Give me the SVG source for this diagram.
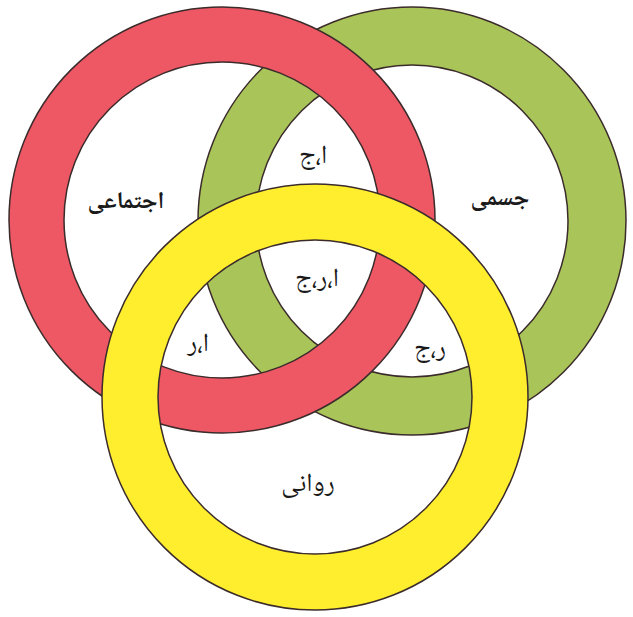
<svg xmlns="http://www.w3.org/2000/svg" width="633" height="617" viewBox="0 0 633 617">
<style>
.ring{fill-rule:evenodd;stroke:#3b2b2b;stroke-width:1.5}
.red{fill:#EE5865}
.green{fill:#A9C55A}
.yellow{fill:#FFEE2E}
.lbl{font-family:"Noto Naskh Arabic","Noto Sans Arabic","DejaVu Sans",sans-serif;font-size:26px;fill:#1a1a1a;text-anchor:middle}
.b{font-weight:bold;font-size:24px}
</style>
<rect width="633" height="617" fill="#ffffff"/>
<g id="ring-physical">
<path class="ring green" d="M198,221 a214,214 0 1,0 428,0 a214,214 0 1,0 -428,0 Z M256,221 a156,156 0 1,0 312,0 a156,156 0 1,0 -312,0 Z"/>
</g>
<g id="ring-social">
<path class="ring red" d="M9,220 a213,213 0 1,0 426,0 a213,213 0 1,0 -426,0 Z M64,220 a158,158 0 1,0 316,0 a158,158 0 1,0 -316,0 Z"/>
</g>
<g id="ring-psych">
<path class="ring yellow" d="M102,397 a213,213 0 1,0 426,0 a213,213 0 1,0 -426,0 Z M158,397 a157,157 0 1,0 314,0 a157,157 0 1,0 -314,0 Z"/>
</g>
<g id="labels">
<text class="lbl b" x="126" y="208">اجتماعی</text>
<text class="lbl b" x="500" y="205">جسمی</text>
<text class="lbl" x="313" y="163">ا،ج</text>
<text class="lbl" x="317" y="286">ا،ر،ج</text>
<text class="lbl" x="198" y="351">ا،ر</text>
<text class="lbl" x="430" y="356">ر،ج</text>
<text class="lbl" x="308" y="491">روانی</text>
</g>
</svg>
